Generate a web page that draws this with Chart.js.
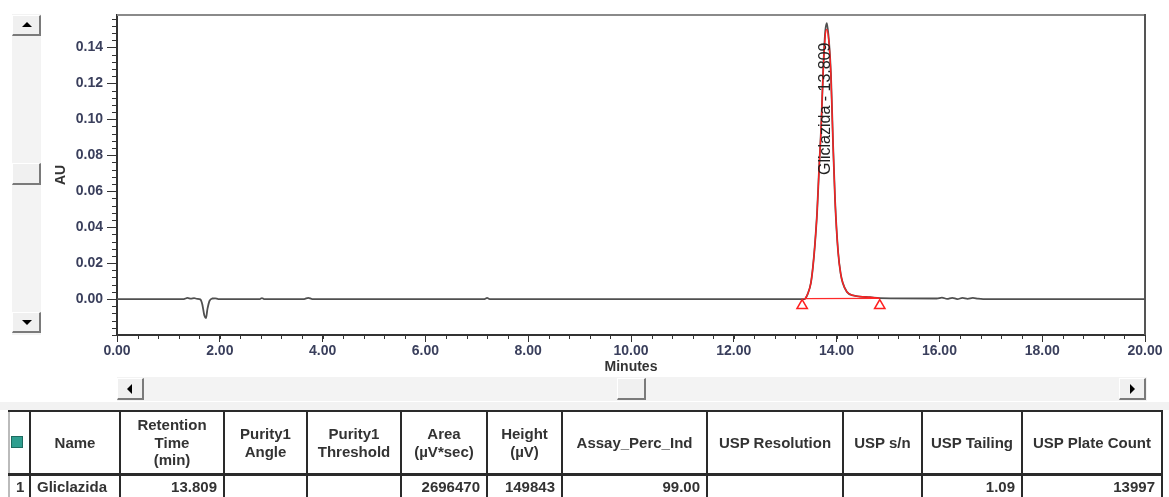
<!DOCTYPE html>
<html>
<head>
<meta charset="utf-8">
<script src="https://cdn.jsdelivr.net/npm/chart.js@4.4.0/dist/chart.umd.min.js"></script>
<style>
body{margin:0;background:#fff;width:1169px;height:497px;overflow:hidden;position:relative;font-family:Arial,"Liberation Sans",sans-serif}
#wrap{position:absolute;left:0;top:0;width:1169px;height:377px}
.track{position:absolute;background:#f3f3f3}
.btn{position:absolute;box-sizing:border-box;background:#f0f0f0;border-top:1px solid #fff;border-left:1px solid #fff;border-right:2px solid #7a7a7a;border-bottom:2px solid #7a7a7a}
.arr{position:absolute;width:0;height:0}
.cell{position:absolute;box-sizing:border-box;font-weight:bold;font-size:15px;color:#333;display:flex;align-items:center;line-height:17.5px}
.vl{position:absolute;background:#2a2a2a;width:2px}
.hl{position:absolute;background:#2a2a2a;height:2px}
</style>
</head>
<body>
<div id="wrap"><canvas id="chrom" width="1169" height="377"></canvas></div>

<!-- vertical scroll bar -->
<div class="track" style="left:12px;top:14px;width:29px;height:321px"></div>
<div class="btn" style="left:12px;top:15px;width:29px;height:21px"><div class="arr" style="left:9px;top:6px;border-left:5px solid transparent;border-right:5px solid transparent;border-bottom:5px solid #000"></div></div>
<div class="btn" style="left:12px;top:163px;width:29px;height:22px"></div>
<div class="btn" style="left:12px;top:312px;width:29px;height:21px"><div class="arr" style="left:9px;top:7px;border-left:5px solid transparent;border-right:5px solid transparent;border-top:5px solid #000"></div></div>

<!-- horizontal scroll bar -->
<div class="track" style="left:117px;top:377px;width:1030px;height:24px"></div>
<div class="btn" style="left:117px;top:378px;width:27px;height:22px"><div class="arr" style="left:9px;top:5px;border-top:5px solid transparent;border-bottom:5px solid transparent;border-right:5px solid #000"></div></div>
<div class="btn" style="left:617px;top:378px;width:29px;height:22px"></div>
<div class="btn" style="left:1119px;top:378px;width:27px;height:22px"><div class="arr" style="left:10px;top:5px;border-top:5px solid transparent;border-bottom:5px solid transparent;border-left:5px solid #000"></div></div>
<div class="track" style="left:0;top:402px;width:1169px;height:8px;background:#f2f2f2"></div>

<div id="tbl"></div>

<script>
// chromatogram trace (black), minutes / AU
const traceTime = [0.00, 1.30, 1.37, 1.44, 1.50, 1.56, 1.62, 1.66, 1.70, 1.73, 1.76, 1.80, 1.85, 1.91, 1.97,
  2.78, 2.82, 2.86, 3.64, 3.72, 3.80, 7.15, 7.20, 7.25,
  13.38, 13.44, 13.50, 13.54, 13.58, 13.62, 13.66, 13.70, 13.74, 13.78, 13.81, 13.85, 13.89, 13.93, 13.97,
  14.03, 14.08, 14.12, 14.20, 14.32, 14.45, 14.65, 14.84,
  15.95, 16.05, 16.15, 16.25, 16.35, 16.45, 16.55, 16.65, 16.75, 16.85, 20.00];
const traceAU = [0.0000, 0.0000, 0.0006, 0.0002, 0.0005, 0.0001, -0.0002, -0.0030, -0.0092, -0.0106, -0.0055, -0.0010, 0.0003, 0.0004, 0.0000,
  0.0000, 0.0005, 0.0000, 0.0000, 0.0007, 0.0000, 0.0000, 0.0006, 0.0000,
  0.0000, 0.0030, 0.0090, 0.0180, 0.0310, 0.0480, 0.0730, 0.0960, 0.1280, 0.1490, 0.1535, 0.1440, 0.1250, 0.0870, 0.0550,
  0.0260, 0.0140, 0.0090, 0.0040, 0.0020, 0.0014, 0.0010, 0.0005,
  0.0003, 0.0008, 0.0001, 0.0007, 0.0000, 0.0006, 0.0001, 0.0006, 0.0002, 0.0000, 0.0000];

// integrated peak (red)
const peakTime = [13.38, 13.44, 13.50, 13.54, 13.58, 13.62, 13.66, 13.70, 13.74, 13.78, 13.81, 13.85, 13.89, 13.93, 13.97,
  14.03, 14.08, 14.12, 14.20, 14.32, 14.45, 14.65, 14.84];
const peakAU = [0.0000, 0.0030, 0.0090, 0.0180, 0.0310, 0.0480, 0.0730, 0.0960, 0.1280, 0.1470, 0.1500, 0.1430, 0.1240, 0.0870, 0.0550,
  0.0260, 0.0140, 0.0090, 0.0040, 0.0020, 0.0014, 0.0010, 0.0005];

// peak start / end markers and the drawn baseline
const markerTime = [13.33, 14.84];
const markerAU = [-0.0036, -0.0036];
const baseTime = [13.36, 14.82];
const baseAU = [0.0002, 0.0004];

const peakName = "Gliclazida";
const peakRT = 13.809;
const labelBaseAU = 0.069;

const xTicks = [0, 2, 4, 6, 8, 10, 12, 14, 16, 18, 20];
const yTicks = [0.00, 0.02, 0.04, 0.06, 0.08, 0.10, 0.12, 0.14];
const xMinorStep = 0.4;
const yMinorStep = 0.004;

// results table
const tblHeaders = ["", "Name", "Retention<br>Time<br>(min)", "Purity1<br>Angle", "Purity1<br>Threshold",
  "Area<br>(µV*sec)", "Height<br>(µV)", "Assay_Perc_Ind", "USP Resolution", "USP s/n", "USP Tailing", "USP Plate Count"];
const tblRow = ["1", "Gliclazida", "13.809", "", "", "2696470", "149843", "99.00", "", "", "1.09", "13997"];
const colEdges = [8, 29, 119, 223, 306, 400, 486, 561, 706, 842, 921, 1021, 1161];

function pts(xs, ys) { return xs.map((x, i) => ({x: x, y: ys[i]})); }

const tickFont = {family: "Arial, 'Liberation Sans'", size: 14, weight: "bold"};

const extras = {
  id: "extras",
  beforeDatasetsDraw(chart) {
    const {ctx, chartArea: a} = chart;
    ctx.save();
    ctx.lineWidth = 2;
    ctx.strokeStyle = "#8a8a8a";
    ctx.beginPath(); ctx.moveTo(a.left, a.top); ctx.lineTo(a.right, a.top); ctx.stroke();
    ctx.strokeStyle = "#555";
    ctx.beginPath(); ctx.moveTo(a.right, a.top - 1); ctx.lineTo(a.right, a.bottom); ctx.stroke();
    ctx.restore();
  },
  afterDraw(chart) {
    const {ctx, chartArea: a} = chart;
    const xs = chart.scales.x, ys = chart.scales.y;
    ctx.save();
    ctx.strokeStyle = "#333";
    ctx.lineWidth = 1;
    ctx.beginPath();
    for (let v = xs.min; v <= xs.max + 1e-9; v += xMinorStep) {
      const px = Math.round(xs.getPixelForValue(v)) + 0.5;
      ctx.moveTo(px, a.bottom); ctx.lineTo(px, a.bottom + 4);
    }
    for (let v = 0; v <= ys.max + 1e-9; v += yMinorStep) {
      const py = Math.round(ys.getPixelForValue(v)) + 0.5;
      ctx.moveTo(a.left - 5, py); ctx.lineTo(a.left, py);
    }
    for (let v = -yMinorStep; v >= ys.min - 1e-9; v -= yMinorStep) {
      const py = Math.round(ys.getPixelForValue(v)) + 0.5;
      ctx.moveTo(a.left - 5, py); ctx.lineTo(a.left, py);
    }
    ctx.stroke();

    // peak label
    ctx.translate(xs.getPixelForValue(peakRT) - 1, ys.getPixelForValue(labelBaseAU));
    ctx.rotate(-Math.PI / 2);
    ctx.fillStyle = "#222";
    ctx.font = "16px Arial, 'Liberation Sans'";
    ctx.textAlign = "left";
    ctx.textBaseline = "middle";
    ctx.fillText(peakName + " - " + peakRT.toFixed(3), 0, 0);
    ctx.restore();
  }
};

new Chart(document.getElementById("chrom"), {
  type: "line",
  data: {
    datasets: [
      {
        data: pts(traceTime, traceAU),
        borderColor: "#505050",
        borderWidth: 1.8,
        pointRadius: 0,
        cubicInterpolationMode: "monotone",
        order: 3
      },
      {
        data: pts(baseTime, baseAU),
        borderColor: "#ff2a2a",
        borderWidth: 1.2,
        pointRadius: 0,
        order: 2
      },
      {
        data: pts(peakTime, peakAU),
        borderColor: "#ff2020",
        borderWidth: 1.4,
        pointRadius: 0,
        cubicInterpolationMode: "monotone",
        order: 1
      },
      {
        data: pts(markerTime, markerAU),
        showLine: false,
        pointStyle: "triangle",
        pointRadius: 6,
        pointBorderWidth: 1.5,
        pointBorderColor: "#ff2020",
        pointBackgroundColor: "rgba(255,255,255,0)",
        order: 0
      }
    ]
  },
  options: {
    responsive: false,
    animation: false,
    devicePixelRatio: 1,
    layout: {padding: {left: 0, top: 15, right: 24, bottom: 0}},
    plugins: {legend: {display: false}, tooltip: {enabled: false}},
    scales: {
      x: {
        type: "linear",
        min: 0,
        max: 20,
        afterBuildTicks: s => { s.ticks = xTicks.map(v => ({value: v})); },
        afterFit: s => { s.height = 42; },
        border: {display: true, color: "#333", width: 2},
        grid: {drawOnChartArea: false, drawTicks: true, tickLength: 7, color: "#333"},
        ticks: {font: tickFont, color: "#3a3f5c", padding: 1, maxRotation: 0, autoSkip: false,
          callback: v => Number(v).toFixed(2)},
        title: {display: true, text: "Minutes", font: {family: "Arial, 'Liberation Sans'", size: 14, weight: "bold"},
          color: "#333", padding: {top: 0, bottom: 1}}
      },
      y: {
        type: "linear",
        min: -0.02,
        max: 0.158,
        afterBuildTicks: s => { s.ticks = yTicks.map(v => ({value: v})); },
        afterFit: s => { s.width = 117; },
        border: {display: true, color: "#333", width: 2},
        grid: {drawOnChartArea: false, drawTicks: true, tickLength: 10, color: "#333"},
        ticks: {font: tickFont, color: "#3a3f5c", padding: 4, autoSkip: false,
          callback: v => Number(v).toFixed(2)},
        title: {display: true, text: "AU", font: {family: "Arial, 'Liberation Sans'", size: 14, weight: "bold"},
          color: "#333", padding: {top: 53, bottom: 0}}
      }
    }
  },
  plugins: [extras]
});

// build the results table
const tbl = document.getElementById("tbl");
const tTop = 410, tMid = 473, tBot = 500;
function addCell(i, top, h, html, align) {
  const d = document.createElement("div");
  d.className = "cell";
  d.style.left = (colEdges[i] + 2) + "px";
  d.style.top = top + "px";
  d.style.width = (colEdges[i + 1] - colEdges[i] - 2) + "px";
  d.style.height = h + "px";
  d.style.justifyContent = align;
  d.style.textAlign = align === "center" ? "center" : align === "flex-end" ? "right" : "left";
  d.style.padding = "0 6px";
  d.innerHTML = html;
  tbl.appendChild(d);
}
for (let i = 0; i < colEdges.length - 1; i++) {
  if (i === 0) {
    const ic = document.createElement("div");
    ic.style.cssText = "position:absolute;left:11px;top:436px;width:12px;height:12px;background:#2f9e8f;border:1px solid #1d6b60;box-sizing:border-box";
    tbl.appendChild(ic);
  } else {
    addCell(i, tTop + 2, tMid - tTop - 2, tblHeaders[i], "center");
  }
  const al = i === 0 || i === 1 ? "flex-start" : "flex-end";
  addCell(i, tMid + 3, 22, tblRow[i], al);
}
for (let i = 0; i < colEdges.length; i++) {
  const v = document.createElement("div");
  v.className = "vl";
  v.style.left = colEdges[i] + "px";
  v.style.top = tTop + "px";
  v.style.height = (tBot - tTop) + "px";
  if (i === 0) v.style.background = "#bbb";
  tbl.appendChild(v);
}
[tTop, tMid].forEach((y, k) => {
  const h = document.createElement("div");
  h.className = "hl";
  h.style.left = colEdges[0] + "px";
  h.style.top = y + "px";
  h.style.width = (colEdges[colEdges.length - 1] - colEdges[0] + 2) + "px";
  if (k === 1) h.style.height = "3px";
  tbl.appendChild(h);
});
</script>
</body>
</html>
